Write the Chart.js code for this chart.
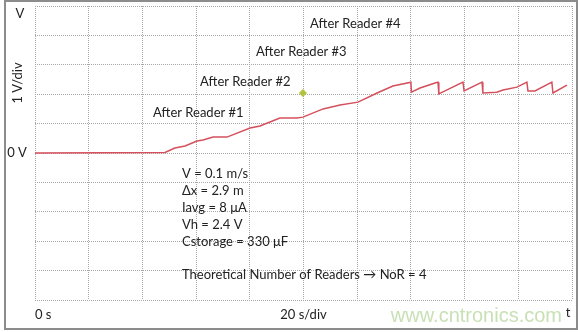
<!DOCTYPE html>
<html>
<head>
<meta charset="utf-8">
<script src="https://cdn.jsdelivr.net/npm/chart.js@4.4.1/dist/chart.umd.min.js"></script>
<style>
  html, body { margin: 0; padding: 0; background: #fff; }
  #wrap { width: 578px; height: 332px; }
</style>
</head>
<body>
<div id="wrap"><canvas id="grafico" width="578" height="332"></canvas></div>
<script>
const tiempos = [0, 48.4, 52.1, 55.9, 60.3, 62.6, 66.3, 71.5, 80.1, 83.8, 91.2, 97.6, 99.8,
  107.3, 113.6, 120.3, 127.4, 133.3, 140.0, 140.2, 143.4, 149.0, 150.1, 150.4, 159.4, 159.8,
  166.5, 166.8, 172.0, 174.3, 179.5, 183.2, 183.6, 186.2, 192.5, 192.9, 198.1];
const tensiones = [0, 0.02, 0.17, 0.24, 0.41, 0.44, 0.54, 0.54, 0.85, 0.92, 1.19, 1.19, 1.22,
  1.50, 1.63, 1.73, 2.04, 2.28, 2.41, 2.07, 2.21, 2.38, 2.41, 2.01, 2.41, 2.11,
  2.41, 2.04, 2.07, 2.14, 2.24, 2.41, 2.11, 2.11, 2.41, 2.04, 2.31];

// Marcador verde
const marcadorT = [99.8];
const marcadorV = [2.04];

// Etiquetas de los ejes
const etiquetasX = ['0 s', '20 s/div', 't'];
const valoresX = [0, 100, 200];
const etiquetasY = ['V', '1 V/div', '0 V'];

// Textos dentro del gráfico
const textosLectores = ['After Reader #1', 'After Reader #2', 'After Reader #3', 'After Reader #4'];
const textosParametros = ['V = 0.1 m/s', 'Δx = 2.9 m', 'Iavg = 8 μA', 'Vh = 2.4 V', 'Cstorage = 330 μF', '',
  'Theoretical Number of Readers → NoR = 4'];

const fuente = '13px Lato, "Open Sans", sans-serif';

const pluginTextos = {
  id: 'textos',
  afterDraw(chart) {
    const ctx = chart.ctx;
    const xs = chart.scales.x, ys = chart.scales.y;
    ctx.save();

    // Marco gris
    ctx.strokeStyle = '#8c8c8c';
    ctx.lineWidth = 2;
    ctx.strokeRect(5, 1, 572, 328);

    ctx.fillStyle = '#222';
    ctx.font = fuente;
    ctx.textBaseline = 'middle';
    ctx.textAlign = 'left';

    // Lectores
    const posL = [[153, 113], [200, 82], [256, 52], [310, 24]];
    textosLectores.forEach((t, i) => ctx.fillText(t, posL[i][0], posL[i][1]));

    // Parámetros
    const yLineas = [174, 191, 208, 225, 242, 258, 275];
    textosParametros.forEach((t, i) => ctx.fillText(t, 182, yLineas[i]));

    // Eje Y
    ctx.textAlign = 'center';
    ctx.fillText(etiquetasY[0], 20, 14);
    ctx.fillText(etiquetasY[2], 17, ys.getPixelForValue(0));
    ctx.save();
    ctx.translate(18, 83);
    ctx.rotate(-Math.PI / 2);
    ctx.fillText(etiquetasY[1], 0, 0);
    ctx.restore();

    // Eje X
    const yEje = 315;
    ctx.textAlign = 'left';
    ctx.fillText(etiquetasX[0], xs.getPixelForValue(valoresX[0]), yEje);
    ctx.textAlign = 'center';
    ctx.fillText(etiquetasX[1], xs.getPixelForValue(valoresX[1]), yEje);

    // Marca de agua
    ctx.fillStyle = '#c9e0b6';
    ctx.font = '20px Arial, "Liberation Sans", sans-serif';
    ctx.textAlign = 'right';
    ctx.fillText('www.cntronics.com', 562, 316);

    ctx.fillStyle = '#222';
    ctx.font = fuente;
    ctx.textAlign = 'center';
    ctx.fillText(etiquetasX[2], xs.getPixelForValue(valoresX[2]) - 4, 313);

    ctx.restore();
  }
};

const ctx = document.getElementById('grafico').getContext('2d');
new Chart(ctx, {
  type: 'scatter',
  data: {
    datasets: [{
      data: tiempos.map((t, i) => ({ x: t, y: tensiones[i] })),
      showLine: true,
      borderColor: '#d4505c',
      borderWidth: 1.5,
      pointRadius: 0,
      tension: 0
    }, {
      data: marcadorT.map((t, i) => ({ x: t, y: marcadorV[i] })),
      pointStyle: 'rectRot',
      pointRadius: 3.5,
      backgroundColor: '#b3c23a',
      borderColor: '#b3c23a'
    }]
  },
  options: {
    responsive: false,
    animation: false,
    layout: { padding: { left: 35, right: 6, top: 6, bottom: 32 } },
    plugins: { legend: { display: false }, tooltip: { enabled: false } },
    scales: {
      x: {
        min: 0, max: 200,
        ticks: { display: false, stepSize: 20 },
        grid: { color: '#a8a8a8', drawTicks: false },
        border: { display: false, dash: [1, 1] }
      },
      y: {
        min: -5, max: 5,
        ticks: { display: false, stepSize: 1 },
        grid: { color: '#a8a8a8', drawTicks: false },
        border: { display: false, dash: [1, 1] }
      }
    }
  },
  plugins: [pluginTextos]
});
</script>
</body>
</html>
